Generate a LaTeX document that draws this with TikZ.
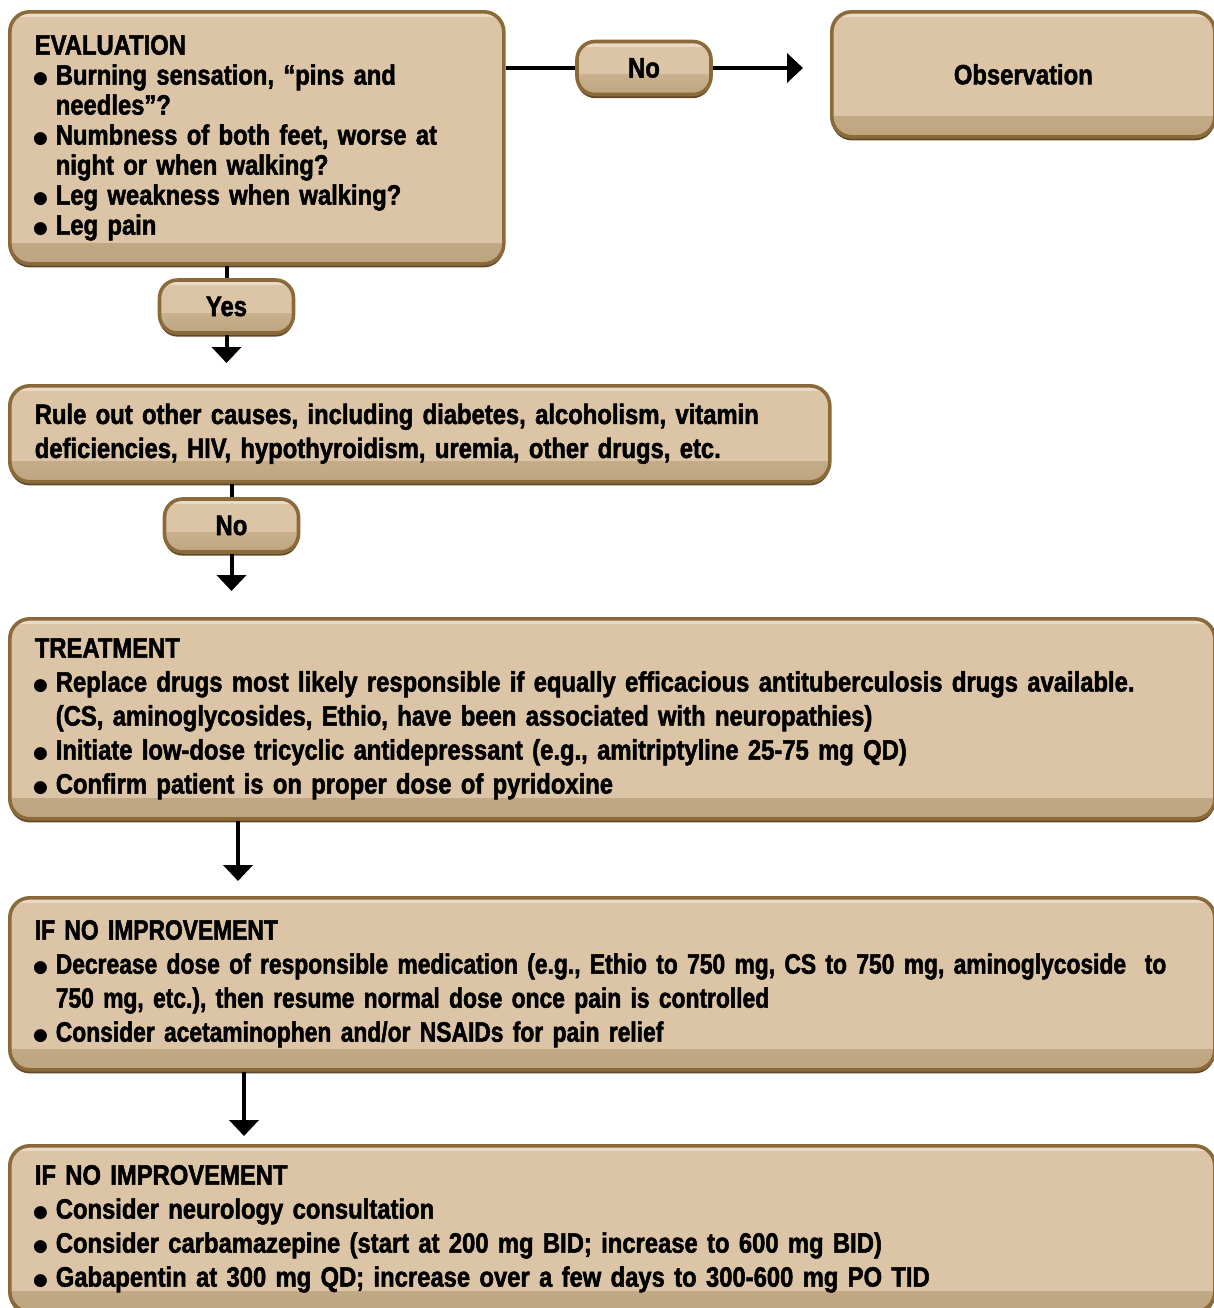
\documentclass[tikz,border=0pt]{standalone}
\usepackage{fontspec}
\setmainfont{Liberation Sans}[FakeStretch=0.85, WordSpace=0.72, BoldFeatures={FakeBold=1.8}]
\newfontfamily\narrowfont{Liberation Sans}[FakeStretch=0.815, WordSpace=0.72, BoldFeatures={FakeBold=1.8}]
\newfontfamily\dotfont{DejaVu Sans}
\usetikzlibrary{positioning,arrows.meta,shadows,calc}
\definecolor{tanfill}{RGB}{220,197,166}
\definecolor{tanlight}{RGB}{232,218,196}
\definecolor{tanshade}{RGB}{190,165,128}
\definecolor{tanedge}{RGB}{139,106,58}
\definecolor{tandark}{RGB}{96,72,40}
\newlength{\bulw}\setlength{\bulw}{10.5pt}
\newcommand{\bitem}{\par\noindent\hangindent=\bulw\hangafter=1\makebox[\bulw][l]{\hspace{-0.8pt}\raisebox{0.6pt}{\dotfont\fontsize{8.5}{10}\selectfont ●}}}

\begin{document}
\begin{tikzpicture}[x=1pt,y=1pt,
  tanbox/.style={draw=tanedge, line width=1.8pt, fill=tanfill, rounded corners=10pt,
    drop shadow={shadow xshift=0pt, shadow yshift=-1.8pt, fill=tandark, opacity=1},
    path picture={
      \shade[sharp corners, top color=tanfill, bottom color=tanshade]
        ([yshift=10pt]path picture bounding box.south west) rectangle (path picture bounding box.south east);
      \fill[sharp corners, tanlight] (path picture bounding box.north west) rectangle ([yshift=-2.5pt]path picture bounding box.north east);},
    align=left, inner xsep=12.5pt, anchor=north west,
    font=\bfseries\fontsize{14}{17}\selectfont},
  pill/.style={tanbox, rounded corners=9pt, anchor=center, align=center,
    minimum width=67pt, minimum height=26.5pt, inner sep=0pt},
  link/.style={line width=2pt},
  flow/.style={line width=2pt, -{Triangle[width=14.5pt,length=8pt]}}]
\useasboundingbox (0,0) rectangle (607,-654);

% boxes
\node[tanbox, text width=222pt, minimum height=126pt,
  font=\bfseries\fontsize{14}{15}\selectfont] (eval) at (4,-5) {EVALUATION
\bitem Burning sensation, “pins and\newline needles”?
\bitem Numbness of both feet, worse at\newline night or when walking?
\bitem Leg weakness when walking?
\bitem Leg pain};
\node[tanbox, text width=166.5pt, minimum height=62.5pt, align=center] (obs) at (415,-5) {Observation};
\node[tanbox, text width=385pt, minimum height=48pt] (rule) at (4,-192) {Rule out other causes, including diabetes, alcoholism, vitamin\newline deficiencies, HIV, hypothyroidism, uremia, other drugs, etc.};
\node[tanbox, text width=577.5pt, minimum height=100pt] (treat) at (4,-308.5) {TREATMENT
\bitem Replace drugs most likely responsible if equally efficacious antituberculosis drugs available.\newline (CS, aminoglycosides, Ethio, have been associated with neuropathies)
\bitem Initiate low-dose tricyclic antidepressant (e.g., amitriptyline 25-75 mg QD)
\bitem Confirm patient is on proper dose of pyridoxine};
\node[tanbox, text width=577.5pt, minimum height=86pt,
  font=\narrowfont\bfseries\fontsize{14}{17}\selectfont] (ifnoa) at (4,-448) {IF NO IMPROVEMENT
\bitem Decrease dose of responsible medication (e.g., Ethio to 750 mg, CS to 750 mg, aminoglycoside~~to\newline 750 mg, etc.), then resume normal dose once pain is controlled
\bitem Consider acetaminophen and/or NSAIDs for pain relief};
\node[tanbox, text width=577.5pt, minimum height=83pt] (ifnob) at (4,-572) {IF NO IMPROVEMENT
\bitem Consider neurology consultation
\bitem Consider carbamazepine (start at 200 mg BID; increase to 600 mg BID)
\bitem Gabapentin at 300 mg QD; increase over a few days to 300-600 mg PO TID};

% decision pills
\node[pill] (nopill) at (322,-34) {No};
\node[pill] (yespill) at (113.25,-153.25) {Yes};
\node[pill] (nopilltwo) at (115.75,-262.75) {No};

% connectors
\draw[link] (eval.east |- nopill) -- (nopill.west);
\draw[flow, shorten >=13.5pt] (nopill.east) -- (obs.west |- nopill);
\draw[link] (eval.south -| yespill) -- (yespill.north);
\draw[flow, shorten >=10.5pt] (yespill.south) -- (rule.north -| yespill);
\draw[link] (rule.south -| nopilltwo) -- (nopilltwo.north);
\draw[flow, shorten >=13pt] (nopilltwo.south) -- (treat.north -| nopilltwo);
\draw[flow, shorten >=7.5pt] ([xshift=115pt]treat.south west) -- ([xshift=115pt]ifnoa.north west);
\draw[flow, shorten >=4pt] ([xshift=118pt]ifnoa.south west) -- ([xshift=118pt]ifnob.north west);
\end{tikzpicture}
\end{document}
